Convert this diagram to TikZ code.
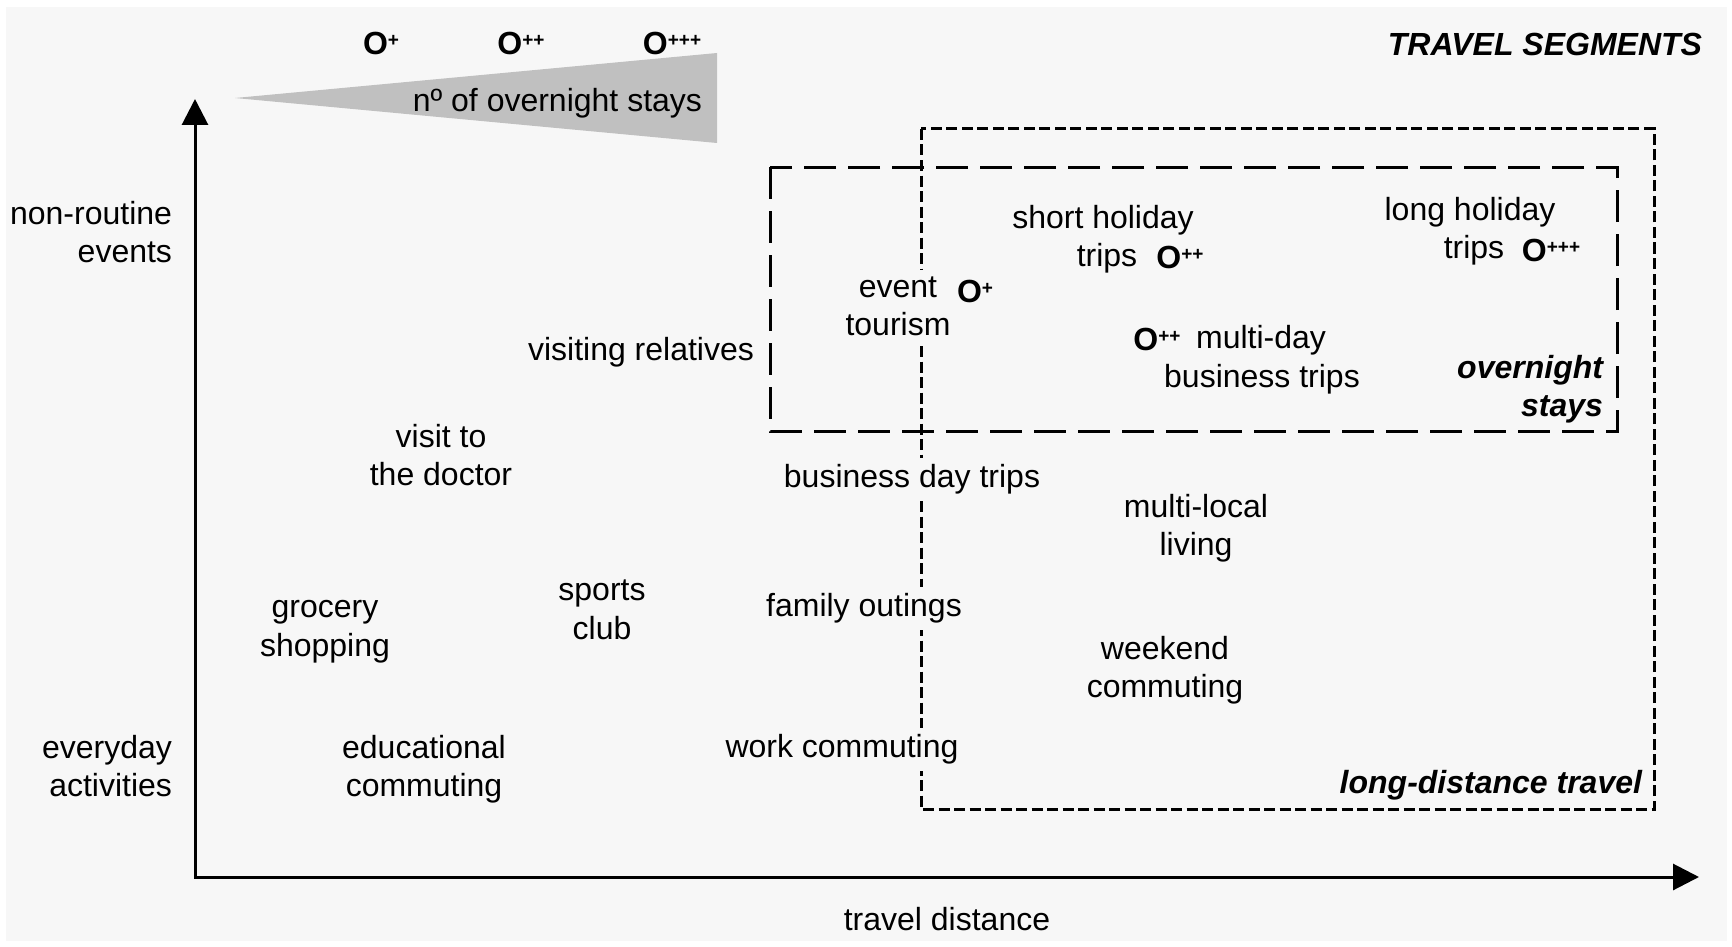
\documentclass[tikz,border=0pt]{standalone}
\usepackage{fontspec}
\setmainfont{Liberation Sans}
\usetikzlibrary{arrows.meta}
\definecolor{bgc}{HTML}{F7F7F7}
\definecolor{wedgec}{HTML}{C0C0C0}
\newcommand\Osym[1]{\textbf{O}\raisebox{8pt}{\fontsize{19}{19}\selectfont\bfseries #1}}
\begin{document}
\begin{tikzpicture}[x=1pt,y=-1pt,
  every node/.style={inner sep=0pt, outer sep=0pt, font=\fontsize{32}{38.5}\selectfont},
  lbl/.style={align=center},
  rlbl/.style={align=right},
  mask/.style={fill=bgc, inner xsep=2pt, inner ysep=7pt},
  bi/.style={font=\fontsize{32}{38.5}\selectfont\bfseries\itshape},
  axis/.style={line width=3pt, {Triangle[length=26pt,width=26pt]}-{Triangle[length=26pt,width=26pt]}},
  ovbox/.style={line width=3pt, dash pattern=on 32pt off 12pt},
  ldbox/.style={line width=3pt, dash pattern=on 11pt off 4.5pt}]
\useasboundingbox (0,0) rectangle (1732,947);
\fill[bgc] (6,7) rectangle (1727,941);
% wedge
\fill[wedgec] (235,98) -- (717,53) -- (717,143) -- cycle;
\node[anchor=east] (nstays) at (702,103) {nº of overnight stays};
\node (o1) at (381,43) {\Osym{+}};
\node (o2) at (521,43) {\Osym{++}};
\node (o3) at (672,43) {\Osym{+++}};
\node[bi, anchor=east] (title) at (1702,44) {TRAVEL SEGMENTS};
% axes
\coordinate (origin) at (195,877);
\coordinate (ytip) at (195,99);
\coordinate (xtip) at (1699,877);
\draw[axis] (ytip) -- (origin) -- (xtip);
% boxes
\draw[ovbox] (770,167) rectangle (1617,431);
\draw[ldbox] (921,129) rectangle (1654,809);
% axis labels
\node[rlbl, anchor=east] (nonroutine) at (172,232) {non-routine\\events};
\node[rlbl, anchor=east] (everyday) at (172,766) {everyday\\activities};
\node (traveldist) at (947,919) {travel distance};
% items
\node (visrel) at (641,352.5) {visiting relatives};
\node[lbl] (doctor) at (441,455) {visit to\\the doctor};
\node[lbl] (grocery) at (325,631.5) {grocery\\shopping};
\node[lbl] (sports) at (602,610) {sports\\club};
\node[lbl] (edu) at (424,769) {educational\\commuting};
\node[mask] (work) at (842,749.5) {work commuting};
\node[mask] (family) at (864,608.5) {family outings};
\node[mask] (bizday) at (912,479.5) {business day trips};
\node[lbl] (multiloc) at (1196,528) {multi-local\\living};
\node[lbl] (weekend) at (1165,670) {weekend\\commuting};
\node[lbl, mask] (event) at (898,306.5) {event\\tourism};
\node (oevent) at (975,291) {\Osym{+}};
\node (shorth) at (1103,220) {short holiday};
\node (shortt) at (1107,258) {trips};
\node (oshort) at (1180,257) {\Osym{++}};
\node (longh) at (1470,212) {long holiday};
\node (longt) at (1474,250) {trips};
\node (olong) at (1551,250) {\Osym{+++}};
\node (omulti) at (1157,339) {\Osym{++}};
\node (multid) at (1261,340) {multi-day};
\node (biztrips) at (1262,379) {business trips};
\node[bi, rlbl, anchor=east] (overnight) at (1603,389) {overnight\\stays};
\node[bi, anchor=east] (longdist) at (1642,785) {long-distance travel};
\end{tikzpicture}
\end{document}
